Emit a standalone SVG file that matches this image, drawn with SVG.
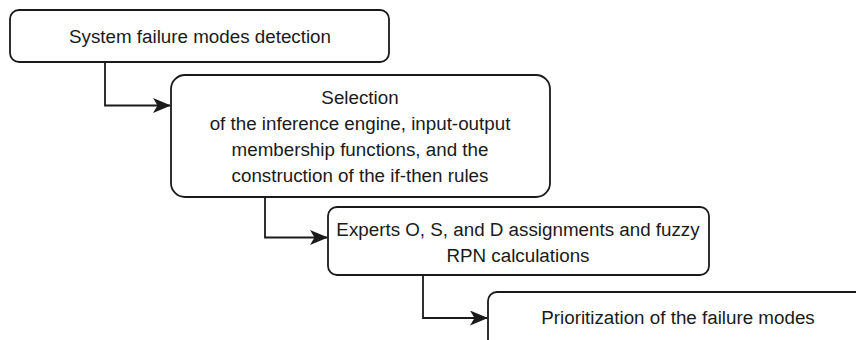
<svg xmlns="http://www.w3.org/2000/svg" width="856" height="340" viewBox="0 0 856 340">
<style>
.box{fill:#fff;stroke:#1a1a1a;stroke-width:1.8}
.t{font-family:"Liberation Sans",Arial,sans-serif;font-size:18.8px;fill:#1a1a1a;text-anchor:middle;dominant-baseline:central}
.c{fill:none;stroke:#1a1a1a;stroke-width:1.8}
</style>
<defs>
<marker id="ah" markerWidth="18" markerHeight="15" refX="17" refY="7.5" orient="auto" markerUnits="userSpaceOnUse">
<path d="M0,0 L18,7.5 L0,15 L4.5,7.5 Z" fill="#1a1a1a"/>
</marker>
</defs>
<rect width="856" height="340" fill="#fff"/>
<g id="n1"><rect class="box" x="10" y="10" width="379" height="52" rx="9"/><text class="t" x="200" y="36">System failure modes detection</text></g>
<g id="n2"><rect class="box" x="171" y="75" width="379" height="122" rx="14"/>
<text class="t" x="360" y="97">Selection</text>
<text class="t" x="360" y="123">of the inference engine, input-output</text>
<text class="t" x="360" y="149">membership functions, and the</text>
<text class="t" x="360" y="175">construction of the if-then rules</text></g>
<g id="n3"><rect class="box" x="328" y="207" width="381" height="68" rx="9"/>
<text class="t" x="518" y="229">Experts O, S, and D assignments and fuzzy</text>
<text class="t" x="518" y="255">RPN calculations</text></g>
<g id="n4"><rect class="box" x="488" y="292" width="400" height="70" rx="9"/>
<text class="t" x="678" y="317">Prioritization of the failure modes</text></g>
<g id="connectors">
<path class="c" d="M105,62 V105.5 H170" marker-end="url(#ah)"/>
<path class="c" d="M265,197 V237.5 H327" marker-end="url(#ah)"/>
<path class="c" d="M423,275 V318 H487" marker-end="url(#ah)"/>
</g>
</svg>
